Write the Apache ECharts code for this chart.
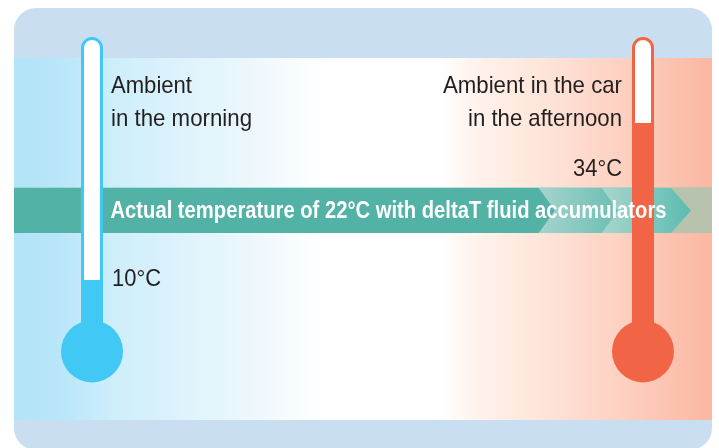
<!DOCTYPE html>
<html>
<head>
<meta charset="utf-8">
<script src="https://cdn.jsdelivr.net/npm/echarts@6/dist/echarts.min.js"></script>
<style>
html,body{margin:0;padding:0;background:#fff;}
#c{width:719px;height:448px;}
</style>
</head>
<body>
<div id="c"></div>
<script>
// ---- data ----
const categories = ['Ambient in the morning', 'Ambient in the car in the afternoon'];
const temperatures = [10, 34];
const actualTemperature = 22;
const captionLines = [['Ambient', 'in the morning'], ['Ambient in the car', 'in the afternoon']];
const tempLabels = temperatures.map(t => t + '°C');
const bandLabel = 'Actual temperature of ' + actualTemperature + '°C with deltaT fluid accumulators';

// ---- helpers ----
const FONT = '"Liberation Sans", Arial, sans-serif';
const mctx = document.createElement('canvas').getContext('2d');
function fitText(text, opts) {
  // opts: x (anchor), baseline, width, align, size, weight, fill
  const font = (opts.weight ? opts.weight + ' ' : '') + opts.size + 'px ' + FONT;
  mctx.font = font;
  const w = mctx.measureText(text).width;
  const s = opts.width / w;
  return {
    type: 'text',
    x: opts.x,
    y: opts.baseline - opts.size * 0.35,
    scaleX: s,
    z: 20,
    style: {
      text: text,
      x: 0, y: 0,
      font: font,
      fill: opts.fill || '#231f20',
      textAlign: opts.align || 'left',
      textVerticalAlign: 'middle',
      lineHeight: opts.size
    }
  };
}

const chart = echarts.init(document.getElementById('c'), null, {renderer: 'canvas'});

const bandTop = 188, bandBot = 233, bandMid = (bandTop + bandBot) / 2;

const graphics = [
  // outer rounded frame
  {type: 'rect', z: 0, shape: {x: 14, y: 8, width: 698, height: 442, r: 22}, style: {fill: '#cadef2'}},
  // gradient band
  {type: 'rect', z: 1, shape: {x: 14, y: 58, width: 698, height: 362},
    style: {fill: new echarts.graphic.LinearGradient(0, 0, 1, 0, [
      {offset: 0, color: '#b2e3f8'},
      {offset: 0.066, color: '#b9e6f9'},
      {offset: 0.14, color: '#cdeefb'},
      {offset: 0.27, color: '#e2f4fc'},
      {offset: 0.35, color: '#eef8fd'},
      {offset: 0.41, color: '#fafdff'},
      {offset: 0.45, color: '#ffffff'},
      {offset: 0.61, color: '#ffffff'},
      {offset: 0.655, color: '#fff4ee'},
      {offset: 0.755, color: '#fee5da'},
      {offset: 0.87, color: '#fdd1c1'},
      {offset: 1, color: '#fbb7a1'}
    ])}},
  // band line
  {type: 'rect', z: 2, shape: {x: 14, y: bandTop - 1, width: 698, height: 1}, style: {fill: 'rgba(120,200,188,0.45)'}},
  // band background (end)
  {type: 'rect', z: 2, shape: {x: 540, y: bandTop, width: 172, height: bandBot - bandTop}, style: {fill: '#b7c3ad'}},
  // seg 1
  {type: 'polygon', z: 3, shape: {points: [[14, bandTop], [539, bandTop], [555, bandMid], [539, bandBot], [14, bandBot]]}, style: {fill: '#52b2a5'}},
  // seg 2
  {type: 'polygon', z: 3, shape: {points: [[539, bandTop], [602, bandTop], [618, bandMid], [602, bandBot], [539, bandBot], [555, bandMid]]},
    style: {fill: new echarts.graphic.LinearGradient(0, 0, 1, 0, [{offset: 0, color: '#a5d3cc'}, {offset: 1, color: '#6bbfb4'}])}},
  // seg 3
  {type: 'polygon', z: 3, shape: {points: [[602, bandTop], [671, bandTop], [691, bandMid], [671, bandBot], [602, bandBot], [618, bandMid]]},
    style: {fill: new echarts.graphic.LinearGradient(0, 0, 1, 0, [{offset: 0, color: '#a8d5ce'}, {offset: 1, color: '#5bbcb0'}])}},
  // texts
  fitText(captionLines[0][0], {x: 111, baseline: 95, width: 81, size: 24}),
  fitText(captionLines[0][1], {x: 111, baseline: 128, width: 141, size: 24}),
  fitText(captionLines[1][0], {x: 622, baseline: 95, width: 179, size: 24, align: 'right'}),
  fitText(captionLines[1][1], {x: 622, baseline: 128, width: 154, size: 24, align: 'right'}),
  fitText(tempLabels[1], {x: 622, baseline: 178, width: 49, size: 24, align: 'right'}),
  fitText(tempLabels[0], {x: 112, baseline: 288, width: 49, size: 24}),
  fitText(bandLabel, {x: 110.5, baseline: 219.5, width: 556, size: 24, weight: 'bold', fill: '#ffffff'})
];

const tempMax = 47;
const colorsFill = ['#41c8f4', '#f26446'];

chart.setOption({
  animation: false,
  grid: {left: 92, right: 76, top: 38, bottom: 102.6},
  xAxis: {type: 'value', min: 0, max: 1, show: false},
  yAxis: {type: 'value', min: 0, max: tempMax, show: false},
  graphic: graphics,
  series: [{
    type: 'custom',
    name: 'Temperature',
    z: 10,
    data: temperatures.map((t, i) => [i, t]),
    renderItem: function (params, api) {
      const xi = api.value(0), t = api.value(1);
      const top = api.coord([xi, tempMax]);
      const lvl = api.coord([xi, t]);
      const base = api.coord([xi, 0]);
      const c = colorsFill[params.dataIndex];
      const cx = top[0];
      return {
        type: 'group',
        children: [
          {type: 'rect', shape: {x: cx - 9.5, y: top[1] + 0.5, width: 19, height: base[1] - top[1], r: [9.5, 9.5, 0, 0]},
            style: {fill: '#ffffff', stroke: c, lineWidth: 3}},
          {type: 'rect', shape: {x: cx - 11, y: lvl[1], width: 22, height: base[1] - lvl[1] + 6, r: [2, 2, 0, 0]},
            style: {fill: c}},
          {type: 'circle', shape: {cx: cx, cy: base[1] + 6, r: 31}, style: {fill: c}}
        ]
      };
    }
  }]
});
</script>
</body>
</html>
